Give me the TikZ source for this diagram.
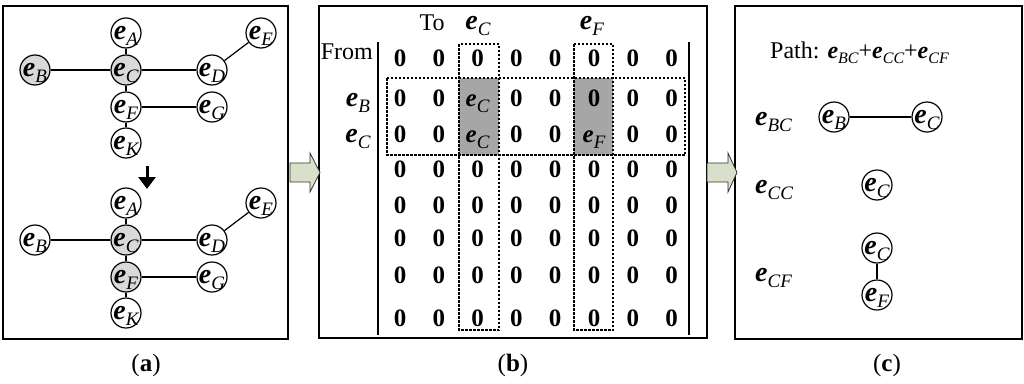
\documentclass[tikz,border=0pt]{standalone}
\usepackage{fontspec}
\setmainfont{Liberation Serif}
\usetikzlibrary{arrows.meta}
\definecolor{nodegray}{HTML}{D9D9D9}
\definecolor{cellgray}{HTML}{A6A6A6}
\definecolor{arrowfill}{HTML}{D8E0CA}
\newcommand\sbsz{\fontsize{19}{19}\selectfont}
\newcommand\ev[1]{\textbf{\textit{e}}\raisebox{-0.22em}{\sbsz\normalfont\itshape #1}}
\newcommand\cellc[2]{\ifnum#1#2=23 \ev{C}\else\ifnum#1#2=33 \ev{C}\else\ifnum#1#2=36 \ev{F}\else 0\fi\fi\fi}
\begin{document}
\begin{tikzpicture}[x=1pt,y=-1pt,
  panel/.style={draw,line width=1.8pt},
  enode/.style={circle,draw,line width=1.2pt,minimum size=30pt,inner sep=0pt,fill=white,
     text height=12pt,text depth=0pt,font=\fontsize{28}{28}\selectfont},
  gnode/.style={enode,fill=nodegray},
  edge/.style={line width=1.2pt},
  cell/.style={inner sep=0pt,text height=17pt,text depth=0pt,font=\fontsize{25}{25}\selectfont\bfseries},
  rlab/.style={inner sep=0pt,text height=17pt,text depth=0pt,font=\fontsize{28}{28}\selectfont},
  lab/.style={inner sep=0pt,font=\fontsize{24}{24}\selectfont},
  dbox/.style={draw,line width=1.4pt,dash pattern=on 2.5pt off 1.5pt},
  bar/.style={line width=2pt},
  blockarrow/.style={fill=arrowfill,draw=black!80,line width=0.8pt},
  captxt/.style={font=\fontsize{25}{25}\selectfont}
]
\useasboundingbox (0,0) rectangle (1024,383);
% panels
\draw[panel] (3,6) rectangle (288,339);
\draw[panel] (319,6) rectangle (707,338);
\draw[panel] (735,6) rectangle (1022,339);

% ---------- panel (a), top graph
\node[enode] (tA) at (126,33) {\ev{A}};
\node[gnode] (tB) at (35,70) {\ev{B}};
\node[gnode] (tC) at (126,70) {\ev{C}};
\node[enode] (tD) at (212,70) {\ev{D}};
\node[enode] (tE) at (261,33) {\ev{E}};
\node[enode] (tF) at (126,107) {\ev{F}};
\node[enode] (tG) at (212,107) {\ev{G}};
\node[enode] (tK) at (126,143) {\ev{K}};
\draw[edge] (tB) -- (tC);
\draw[edge] (tC) -- (tD);
\draw[edge] (tD) -- (tE);
\draw[edge] (tA) -- (tC);
\draw[edge] (tC) -- (tF);
\draw[edge] (tF) -- (tK);
\draw[edge] (tF) -- (tG);

% down arrow
\coordinate (d1) at (147,166);
\coordinate (d2) at (147,189);
\draw[line width=3pt,-{Triangle[width=17pt,length=12pt]}] (d1) -- (d2);

% ---------- panel (a), bottom graph
\node[enode] (bA) at (126,203) {\ev{A}};
\node[enode] (bB) at (35,240) {\ev{B}};
\node[gnode] (bC) at (126,240) {\ev{C}};
\node[enode] (bD) at (212,240) {\ev{D}};
\node[enode] (bE) at (261,203) {\ev{E}};
\node[gnode] (bF) at (126,277) {\ev{F}};
\node[enode] (bG) at (212,277) {\ev{G}};
\node[enode] (bK) at (126,313) {\ev{K}};
\draw[edge] (bB) -- (bC);
\draw[edge] (bC) -- (bD);
\draw[edge] (bD) -- (bE);
\draw[edge] (bA) -- (bC);
\draw[edge] (bC) -- (bF);
\draw[edge] (bF) -- (bK);
\draw[edge] (bF) -- (bG);

% block arrows
\draw[blockarrow] (290,163) -- (310,163) -- (310,153) -- (320,172.5) -- (310,192) -- (310,182) -- (290,182) -- cycle;
\draw[blockarrow] (707,163) -- (728,163) -- (728,153) -- (737,172.5) -- (728,192) -- (728,182) -- (707,182) -- cycle;

% ---------- panel (b)
\fill[cellgray] (459,78) rectangle (499,155);
\fill[cellgray] (574,78) rectangle (613,155);
\draw[dbox] (459,44) rectangle (499,330);
\draw[dbox] (574,44) rectangle (613,330);
\draw[dbox] (387,78) rectangle (685,155);
\draw[bar] (378,42) -- (378,335);
\draw[bar] (689,42) -- (689,335);

\foreach \r/\y in {1/58,2/98,3/134,4/169,5/205,6/238,7/275,8/318}{
  \foreach \c in {1,...,8}{
    \node[cell] (m\r\c) at ({400+38.8*(\c-1)},\y) {\cellc{\r}{\c}};
  }
}
\node[lab] (to) at (432,23) {To};
\node[rlab] (hC) at (478,21) {\ev{C}};
\node[rlab] (hF) at (592,21) {\ev{F}};
\node[lab,anchor=east] (from) at (373,52) {From};
\node[rlab] (rB) at (358,98) {\ev{B}};
\node[rlab] (rC) at (358,134) {\ev{C}};

% ---------- panel (c)
\node[lab,anchor=west] (path) at (770,53) {\renewcommand\sbsz{\fontsize{16}{16}\selectfont}Path: \ev{BC}+\ev{CC}+\ev{CF}};
\node[rlab,anchor=west] (lBC) at (755,117) {\ev{BC}};
\node[rlab,anchor=west] (lCC) at (755,185) {\ev{CC}};
\node[rlab,anchor=west] (lCF) at (755,273) {\ev{CF}};
\node[enode] (cB) at (834,117) {\ev{B}};
\node[enode] (cC1) at (927,117) {\ev{C}};
\node[enode] (cC2) at (877,185) {\ev{C}};
\node[enode] (cC3) at (877,248) {\ev{C}};
\node[enode] (cF) at (877,295) {\ev{F}};
\draw[edge] (cB) -- (cC1);
\draw[edge] (cC3) -- (cF);

% captions
\node[captxt] (capa) at (146,365) {(\textbf{a})};
\node[captxt] (capb) at (513,365) {(\textbf{b})};
\node[captxt] (capc) at (887,365) {(\textbf{c})};
\end{tikzpicture}
\end{document}
